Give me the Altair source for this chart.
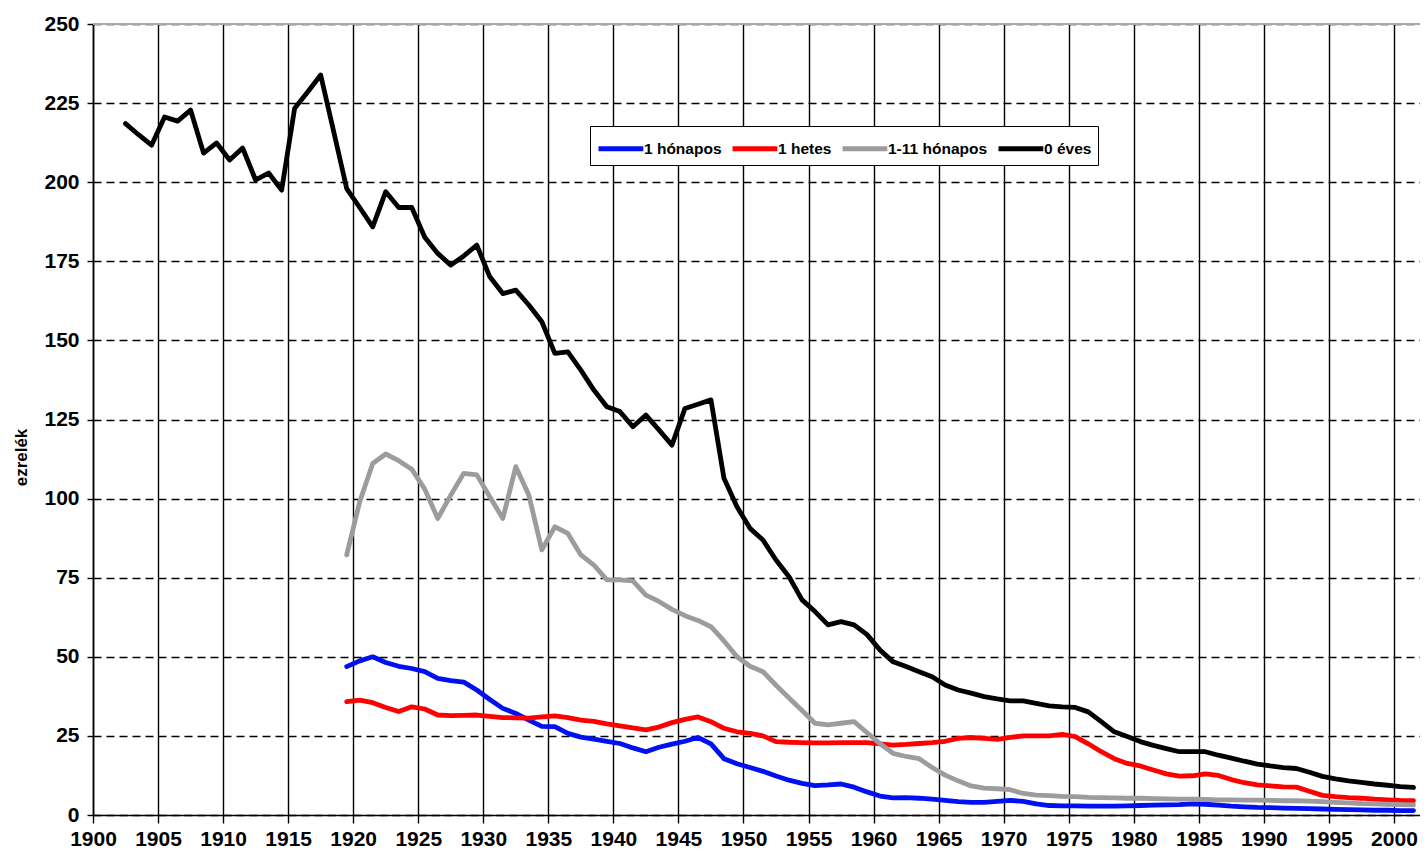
import altair as alt
import pandas as pd

FONT = "Liberation Sans, Arial, sans-serif"

series_names = ["1 hónapos", "1 hetes", "1-11 hónapos", "0 éves"]
series_colors = ["#0010f0", "#ff0000", "#9c9c9c", "#000000"]

years_0eves = list(range(1902, 2002))
eves_0 = [
    218.5, 215.0, 211.7, 220.6, 219.3, 222.8, 209.2, 212.4, 207.0, 210.8,
    200.7, 202.9, 197.5, 223.4, 228.5, 233.9, 216.0, 198.0, 192.0, 185.9,
    197.0, 192.0, 192.0, 182.6, 177.5, 173.8, 176.7, 180.1, 170.1, 164.8,
    165.9, 161.2, 155.9, 145.9, 146.4, 140.6, 134.3, 129.0, 127.5, 122.7,
    126.4, 121.7, 116.9, 128.5, 129.8, 131.2, 106.4, 97.4, 90.6, 86.9,
    80.6, 75.3, 68.0, 64.3, 60.1, 61.1, 60.1, 57.0, 52.1, 48.4,
    46.9, 45.3, 43.7, 41.1, 39.5, 38.5, 37.4, 36.7, 36.1, 36.1,
    35.3, 34.5, 34.2, 34.0, 32.6, 29.5, 26.3, 24.8, 23.2, 22.0,
    21.0, 20.0, 20.0, 20.0, 18.9, 18.0, 17.0, 16.1, 15.5, 15.0,
    14.7, 13.5, 12.2, 11.4, 10.8, 10.3, 9.8, 9.4, 9.0, 8.7,
]

years_1919 = list(range(1919, 2002))
honapos_1 = [
    46.9, 48.7, 50.0, 48.2, 47.0, 46.3, 45.3, 43.2, 42.5, 42.0,
    39.5, 36.5, 33.7, 32.1, 30.0, 28.0, 27.9, 25.8, 24.6, 24.0,
    23.3, 22.6, 21.2, 20.0, 21.4, 22.4, 23.3, 24.5, 22.5, 17.8,
    16.2, 15.0, 13.8, 12.3, 11.0, 10.0, 9.3, 9.5, 9.8, 8.8,
    7.3, 6.0, 5.4, 5.5, 5.3, 5.0, 4.6, 4.2, 4.0, 4.0,
    4.3, 4.6, 4.3, 3.5, 3.0, 2.9, 2.9, 2.8, 2.8, 2.8,
    2.9, 3.0, 3.1, 3.2, 3.3, 3.5, 3.4, 3.1, 2.8, 2.6,
    2.4, 2.3, 2.2, 2.1, 2.0, 1.9, 1.8, 1.7, 1.6, 1.5,
    1.5, 1.4, 1.4,
]
hetes_1 = [
    35.8, 36.3, 35.5, 34.0, 32.7, 34.2, 33.5, 31.6, 31.4, 31.5,
    31.6, 31.2, 30.8, 30.7, 30.6, 31.0, 31.3, 30.8, 30.0, 29.6,
    28.8, 28.2, 27.5, 26.9, 27.8, 29.2, 30.2, 31.0, 29.5, 27.4,
    26.3, 25.8, 25.0, 23.2, 23.0, 22.9, 22.8, 22.8, 22.9, 22.9,
    22.9, 22.5, 22.1, 22.3, 22.6, 22.9, 23.3, 24.2, 24.5, 24.2,
    23.9, 24.5, 25.0, 25.0, 25.0, 25.5, 24.8, 22.5, 20.0, 17.8,
    16.3, 15.5, 14.2, 13.0, 12.3, 12.4, 13.0, 12.5, 11.2, 10.2,
    9.5, 9.2, 8.9, 8.8, 7.5, 6.2, 5.8, 5.5, 5.3, 5.0,
    4.8, 4.6, 4.5,
]
honapos_1_11 = [
    82.2, 99.0, 111.1, 114.1, 112.0, 109.3, 103.0, 93.7, 101.1, 108.0,
    107.5, 100.6, 93.7, 110.1, 101.1, 83.8, 91.1, 89.0, 82.2, 79.0,
    74.3, 74.3, 74.0, 69.5, 67.5, 65.0, 63.0, 61.5, 59.5, 55.0,
    50.0, 47.0, 45.3, 41.0, 37.0, 33.0, 29.0, 28.5, 29.0, 29.5,
    26.0, 22.5, 19.5, 18.5, 17.8, 15.0, 12.6, 10.8, 9.2, 8.5,
    8.3, 8.0, 6.8, 6.3, 6.1, 5.9, 5.8, 5.6, 5.5, 5.4,
    5.3, 5.3, 5.2, 5.1, 5.0, 5.0, 4.9, 4.8, 4.8, 4.7,
    4.7, 4.6, 4.5, 4.5, 4.4, 4.2, 4.0, 3.8, 3.6, 3.5,
    3.4, 3.3, 3.2,
]

assert len(eves_0) == len(years_0eves)
for s in (honapos_1, hetes_1, honapos_1_11):
    assert len(s) == len(years_1919)

rows = []
for name, yrs, vals in [
    ("1 hónapos", years_1919, honapos_1),
    ("1 hetes", years_1919, hetes_1),
    ("1-11 hónapos", years_1919, honapos_1_11),
    ("0 éves", years_0eves, eves_0),
]:
    for yr, v in zip(yrs, vals):
        rows.append({"ev": yr, "ertek": v, "sor": name})
df = pd.DataFrame(rows)

x_ticks = list(range(1900, 2001, 5))
y_ticks = list(range(0, 251, 25))

lines = (
    alt.Chart(df)
    .transform_calculate(xpos="datum.ev + 0.5")
    .mark_line(strokeWidth=4.8, strokeJoin="round", strokeCap="round")
    .encode(
        x=alt.X(
            "xpos:Q",
            scale=alt.Scale(domain=[1900, 2002], nice=False, zero=False),
            axis=alt.Axis(
                values=x_ticks,
                format="d",
                title=None,
                grid=True,
                gridColor="#000000",
                gridWidth=1.4,
                domainColor="#000000",
                domainWidth=1.6,
                tickColor="#000000",
                tickWidth=1.4,
                tickSize=8,
                labelPadding=5,
                labelFont=FONT,
                labelFontSize=21,
                labelFontWeight="bold",
                labelColor="#000000",
                labelFlush=False,
            ),
        ),
        y=alt.Y(
            "ertek:Q",
            scale=alt.Scale(domain=[0, 250], nice=False),
            axis=alt.Axis(
                values=y_ticks,
                title="ezrelék",
                titleFont=FONT,
                titleFontSize=17,
                titleFontWeight="bold",
                titleColor="#000000",
                titleAngle=270,
                titleX=-72,
                titleY=433,
                titleAlign="center",
                titleBaseline="middle",
                grid=True,
                gridColor="#000000",
                gridDash=[8, 5],
                gridWidth=1.4,
                domainColor="#000000",
                domainWidth=1.6,
                tickColor="#000000",
                tickWidth=1.4,
                tickSize=6,
                labelPadding=8,
                labelFont=FONT,
                labelFontSize=21,
                labelFontWeight="bold",
                labelColor="#000000",
            ),
        ),
        color=alt.Color(
            "sor:N",
            scale=alt.Scale(domain=series_names, range=series_colors),
            legend=alt.Legend(
                orient="none",
                legendX=497,
                legendY=102,
                direction="horizontal",
                title=None,
                symbolType="M-1,0H2.2",
                symbolSize=784,
                symbolStrokeWidth=5,
                labelFont=FONT,
                labelFontSize=15.5,
                labelFontWeight="bold",
                labelColor="#000000",
                labelOffset=15,
                columnPadding=0,
                padding=6,
                fillColor="#ffffff",
                strokeColor="#000000",
            ),
        ),
        order=alt.Order("ev:Q"),
    )
)

top_rule = (
    alt.Chart(pd.DataFrame({"felso": [250]}))
    .mark_rule(color="#a8a8a8", strokeWidth=2)
    .encode(y="felso:Q")
)

chart = (
    alt.layer(lines, top_rule)
    .properties(
        width=1327,
        height=791,
        autosize=alt.AutoSizeParams(type="none"),
        padding={"left": 85, "top": 16, "right": 0, "bottom": 40},
        background="#ffffff",
    )
    .configure_view(stroke=None)
)

chart.save("out.html", embed_options={"renderer": "svg", "actions": False})
